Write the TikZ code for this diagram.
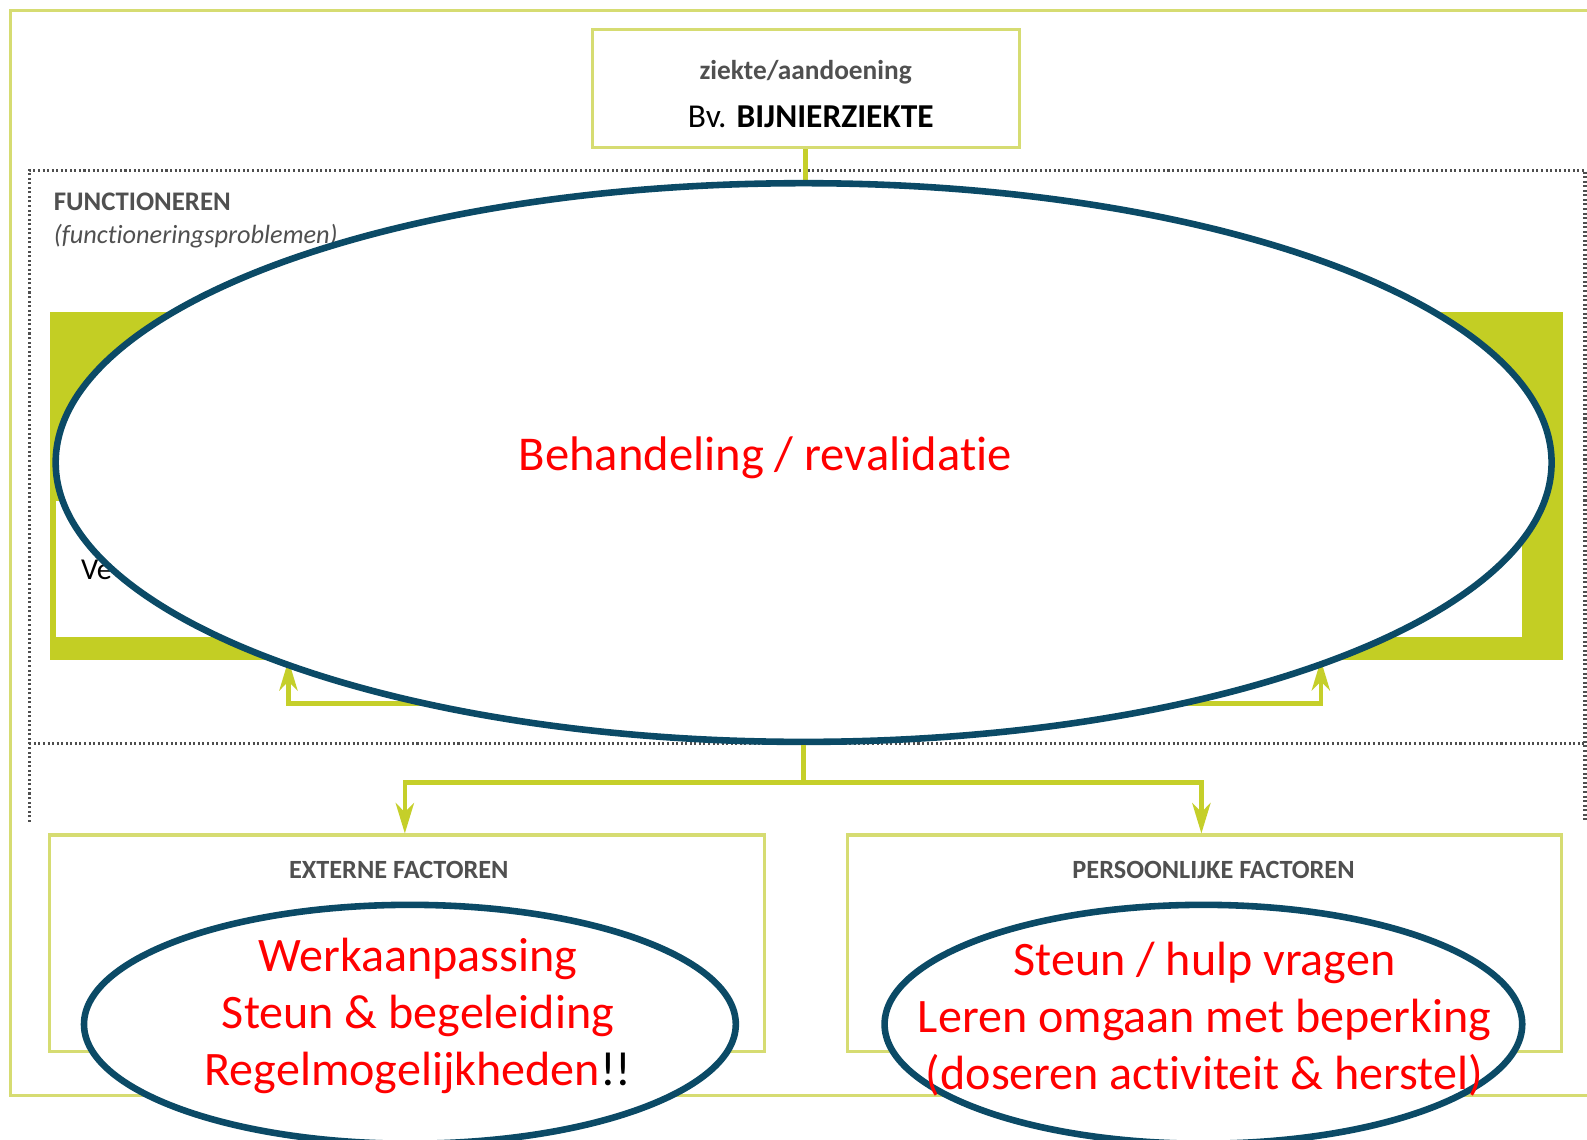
\documentclass[tikz,border=0pt]{standalone}
\usepackage{fontspec}
\setmainfont{Carlito}[RawFeature=-liga]
\usetikzlibrary{arrows.meta,shapes.geometric,calc}
\definecolor{olv}{HTML}{D6DC72}
\definecolor{grn}{HTML}{C3CE24}
\definecolor{arr}{HTML}{C5CF2A}
\definecolor{tealb}{HTML}{0B4A66}
\definecolor{gtxt}{HTML}{505050}
\definecolor{dotg}{HTML}{4E4E4E}
\definecolor{redt}{HTML}{FF0000}
\begin{document}
\begin{tikzpicture}[x=1pt,y=-1pt,
  frame/.style={draw=olv,line width=3pt},
  box/.style={draw=olv,line width=3pt,fill=white,rectangle,inner sep=0pt},
  dots/.style={draw=dotg,line width=3pt,dash pattern=on 2pt off 2.5pt},
  conn/.style={draw=arr,line width=4.5pt},
  tip/.style={-{Stealth[length=30pt,width=18pt,inset=9pt]}},
  oval/.style={ellipse,draw=tealb,line width=6.5pt,fill=white,inner sep=0pt},
  title/.style={font=\fontsize{26}{30}\selectfont\bfseries,text=gtxt,inner sep=0pt},
  redtxt/.style={text=redt,align=center,inner sep=0pt},
]
\clip (0,0) rectangle (1568,1126);
\fill[white] (0,0) rectangle (1568,1126);
% outer frame
\draw[frame] (10,10) rectangle (1640,1082);
% top box
\node[box,minimum width=422,minimum height=117] (ziekte) at (796,87.5) {};
\node[title,font=\fontsize{27}{30}\selectfont\bfseries] (zt) at (796,71) {ziekte/aandoening};
\node[inner sep=0pt,font=\fontsize{33}{36}\selectfont] (bv) at (801,115) {Bv. \textbf{BIJNIERZIEKTE}};
% dotted region
\draw[dots] (29,812) -- (29,168) -- (1566,168) -- (1566,812);
\draw[dots] (29,735) -- (1566,735);
\node[title,anchor=base west,font=\fontsize{26.5}{30}\selectfont\bfseries] (fn) at (53,208) {FUNCTIONEREN};
\node[title,anchor=base west,font=\fontsize{26}{30}\selectfont\itshape] (fp) at (53,241) {(functioneringsproblemen)};
% green box
\node[rectangle,fill=grn,minimum width=1495,minimum height=344,inner sep=0pt] (func) at (796.5,480) {};
\fill[white] (55,495) rectangle (1504,629);
\node[anchor=base west,inner sep=0pt,font=\fontsize{30}{34}\selectfont] (ve) at (80,573) {Ve};
% arrows into green box (from hidden source under the ellipse)
\coordinate (hidL) at (600,695);
\coordinate (hidR) at (1000,695);
\coordinate (aL) at (285,0);
\coordinate (aR) at (1305,0);
\draw[conn,tip] (hidL) -| (func.south -| aL);
\draw[conn,tip] (hidR) -| (func.south -| aR);
% connector top box -> ellipse
\draw[conn] (ziekte.south) -- (796,190);
% main ellipse
\node[oval,minimum width=1478,minimum height=552] (beh) at (794,457) {};
\node[redtxt,font=\fontsize{48}{56}\selectfont] (behtxt) at (756,452) {Behandeling / revalidatie};
% bottom boxes
\node[box,minimum width=706,minimum height=214] (ext) at (402,932) {};
\node[box,minimum width=706,minimum height=214] (pers) at (1190,932) {};
\node[title] (extt) at (394,860) {EXTERNE FACTOREN};
\node[title] (perst) at (1199,860) {PERSOONLIJKE FACTOREN};
% connectors from ellipse to bottom boxes
\draw[conn] (beh.south) -- (794,773) coordinate (split);
\draw[conn,tip] (split) -| (ext.north -| 400,0);
\draw[conn,tip] (split) -| (pers.north -| 1187,0);
% bottom ellipses
\node[oval,minimum width=644,minimum height=236] (ov1) at (405,1012) {};
\node[oval,minimum width=630,minimum height=236] (ov2) at (1189,1012) {};
\node[redtxt,font=\fontsize{47.5}{56.5}\selectfont] (t1) at (413,1004) {Werkaanpassing\\Steun \& begeleiding\\Regelmogelijkheden\textcolor{black}{!!}};
\node[redtxt,font=\fontsize{47.5}{56.5}\selectfont] (t2) at (1190,1007) {Steun / hulp vragen\\Leren omgaan met beperking\\(doseren activiteit \& herstel)};
\end{tikzpicture}
\end{document}
